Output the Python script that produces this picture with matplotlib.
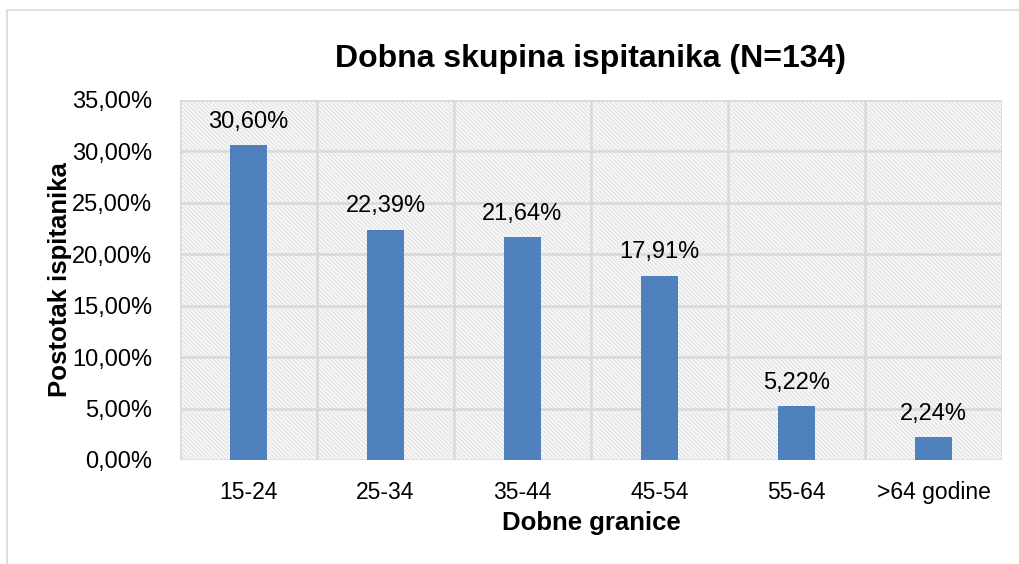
import matplotlib
matplotlib.use("Agg")
import matplotlib.pyplot as plt
import matplotlib.patches as mpatches
import numpy as np

plt.rcParams["font.family"] = ["Liberation Sans", "DejaVu Sans"]
plt.rcParams["hatch.linewidth"] = 1.3

# ── data ──────────────────────────────────────────────────────────────────────
categories = ["15-24", "25-34", "35-44", "45-54", "55-64", ">64 godine"]
percentages = [30.60, 22.39, 21.64, 17.91, 5.22, 2.24]
y_ticks = [0, 5, 10, 15, 20, 25, 30, 35]

BAR_COLOR = "#4f81bd"
GRID_COLOR = "#d9d9d9"
HATCH_COLOR = "#e6e6e6"


def pct(v):
    return f"{v:.2f}".replace(".", ",") + "%"


fig = plt.figure(figsize=(10.19, 5.64), dpi=100)
ax = fig.add_axes([0.1766, 0.1844, 0.8067, 0.6383])

# outer chart frame
fig.patches.append(mpatches.Rectangle((0.007, -0.01), 1.2, 0.993,
                                      transform=fig.transFigure, fill=False,
                                      edgecolor=GRID_COLOR, linewidth=1.2))

x = np.arange(len(categories))
ax.set_xlim(-0.5, len(categories) - 0.5)
ax.set_ylim(0, 35)

# hatched plot background
ax.add_patch(mpatches.Rectangle((-0.5, 0), len(categories), 35, hatch="\\" * 8,
                                facecolor="white", edgecolor=HATCH_COLOR,
                                linewidth=0, zorder=0))

for yv in y_ticks:
    ax.axhline(yv, color=GRID_COLOR, linewidth=1.8, zorder=1)
for xv in np.arange(-0.5, len(categories), 1.0):
    ax.axvline(xv, color=GRID_COLOR, linewidth=1.8, zorder=1)

bars = ax.bar(x, percentages, width=0.27, color=BAR_COLOR, zorder=3)
for b, v in zip(bars, percentages):
    ax.text(b.get_x() + b.get_width() / 2, v + 1.2, pct(v),
            ha="center", va="bottom", fontsize=17, color="black", zorder=4)

for s in ax.spines.values():
    s.set_visible(False)

ax.set_xticks(x)
ax.set_xticklabels(categories, fontsize=16.5)
ax.set_yticks(y_ticks)
ax.set_yticklabels([pct(v) for v in y_ticks], fontsize=17)
ax.tick_params(axis="y", length=0, pad=20)
ax.tick_params(axis="x", length=0, pad=15)

ax.set_xlabel("Dobne granice", fontsize=18.5, fontweight="bold", labelpad=5)
ax.set_ylabel("Postotak ispitanika", fontsize=18.5, fontweight="bold", labelpad=0)
ax.set_title("Dobna skupina ispitanika (N=134)", fontsize=23,
             fontweight="bold", pad=24)

fig.savefig("out.png", dpi=100)
